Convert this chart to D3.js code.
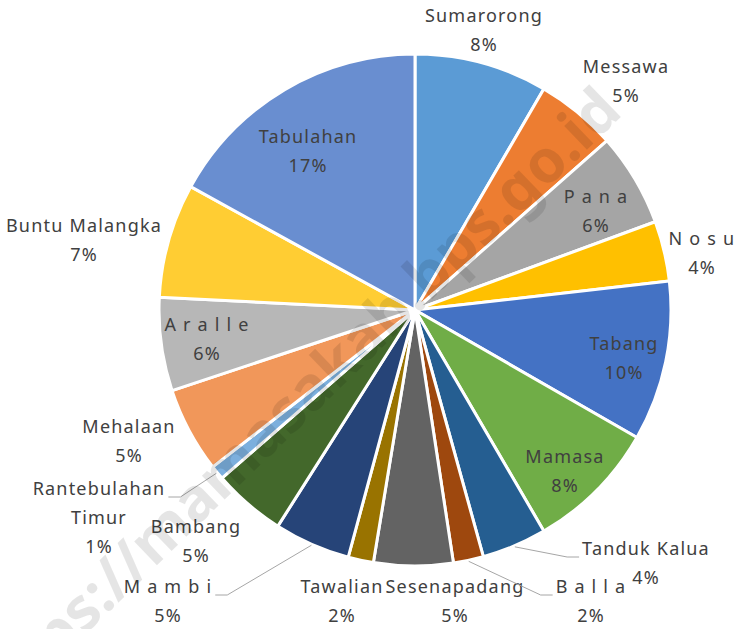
<!DOCTYPE html>
<html>
<head>
<meta charset="utf-8">
<script src="https://cdn.jsdelivr.net/npm/d3@7"></script>
<style>
  body { margin: 0; background: #fff; }
  text { font-family: "Noto Sans", "Open Sans", sans-serif; }
</style>
</head>
<body>
<svg id="chart" width="738" height="629"></svg>
<script>
// kecamatan (clockwise from top)
const names = ["Sumarorong", "Messawa", "P a n a", "N o s u", "Tabang", "Mamasa",
    "Tanduk Kalua", "B a l l a", "Sesenapadang", "Tawalian", "M a m b i", "Bambang",
    "Rantebulahan Timur", "Mehalaan", "A r a l l e", "Buntu Malangka", "Tabulahan"];
const shares = [8.4, 5.1, 5.9, 3.8, 10.1, 8.3, 4.1, 1.9, 5.0, 1.6, 4.8, 4.6, 0.9, 5.4, 5.9, 7.2, 17.0];
const colors = ["#5B9BD5", "#ED7D31", "#A5A5A5", "#FFC000", "#4472C4", "#70AD47",
    "#255E91", "#9E480E", "#636363", "#997300", "#264478", "#43682B",
    "#7CAFDD", "#F1975A", "#B7B7B7", "#FFCD33", "#698ED0"];

// label placement (centre x, first baseline y), lines of text
const labelPos = [[484, 22], [626, 73], [596, 203], [702, 245], [624, 350], [565, 463],
    [646, 555], [591, 593], [455, 593], [342, 593], [168, 593], [196, 533],
    [99, 495], [129, 433], [207, 331], [84, 232], [308, 143]];
const labelLines = names.map(n => n === "Rantebulahan Timur" ? ["Rantebulahan", "Timur"] : [n]);
const leaders = { "Tanduk Kalua": "right", "B a l l a": "right", "Rantebulahan Timur": "left", "M a m b i": "left" };

const svg = d3.select("#chart");
const cx = 415, cy = 310, r = 256;
const total = d3.sum(shares);
const pct = d3.format(".0%");

const pie = d3.pie().sort(null).value(d => d)(shares);
const arc = d3.arc().innerRadius(0).outerRadius(r);
const edgeArc = d3.arc().innerRadius(r + 1).outerRadius(r + 1);

const g = svg.append("g").attr("transform", `translate(${cx},${cy})`);

g.selectAll("path.slice")
    .data(pie)
    .enter()
    .append("path")
    .attr("class", "slice")
    .attr("d", arc)
    .attr("fill", (d, i) => colors[i])
    .attr("stroke", "#fff")
    .attr("stroke-width", 3)
    .attr("stroke-linejoin", "round");

// labels
const labels = svg.selectAll("g.lbl")
    .data(pie)
    .enter()
    .append("g")
    .attr("class", "lbl");

labels.each(function (d, i) {
    const el = d3.select(this);
    const [x, y] = labelPos[i];
    const lines = labelLines[i].concat([pct(shares[i] / total)]);
    lines.forEach((t, k) => {
        el.append("text")
            .attr("x", x)
            .attr("y", y + k * 29)
            .attr("text-anchor", "middle")
            .attr("font-size", 18)
            .attr("letter-spacing", 1.2)
            .attr("fill", "#404040")
            .text(t);
    });

    const side = leaders[names[i]];
    if (side) {
        const first = el.select("text").node();
        const w = first.getComputedTextLength();
        const [sx, sy] = edgeArc.centroid(d);
        const ex = side === "right" ? x - w / 2 - 3 : x + w / 2 + 3;
        const ey = y + 2;
        const bx = side === "right" ? ex - 12 : ex + 12;
        svg.append("polyline")
            .attr("points", [[sx + cx, sy + cy], [bx, ey], [ex, ey]].map(p => p.join(",")).join(" "))
            .attr("fill", "none")
            .attr("stroke", "#A6A6A6")
            .attr("stroke-width", 1);
    }
});

// watermark
svg.append("text")
    .attr("transform", "translate(624,114) rotate(-44)")
    .attr("text-anchor", "end")
    .attr("font-family", "Liberation Sans, Arial, sans-serif")
    .attr("font-weight", "bold")
    .attr("font-size", 60)
    .attr("fill", "#000")
    .attr("fill-opacity", 0.1)
    .text("https://mamasakab.bps.go.id");
</script>
</body>
</html>
